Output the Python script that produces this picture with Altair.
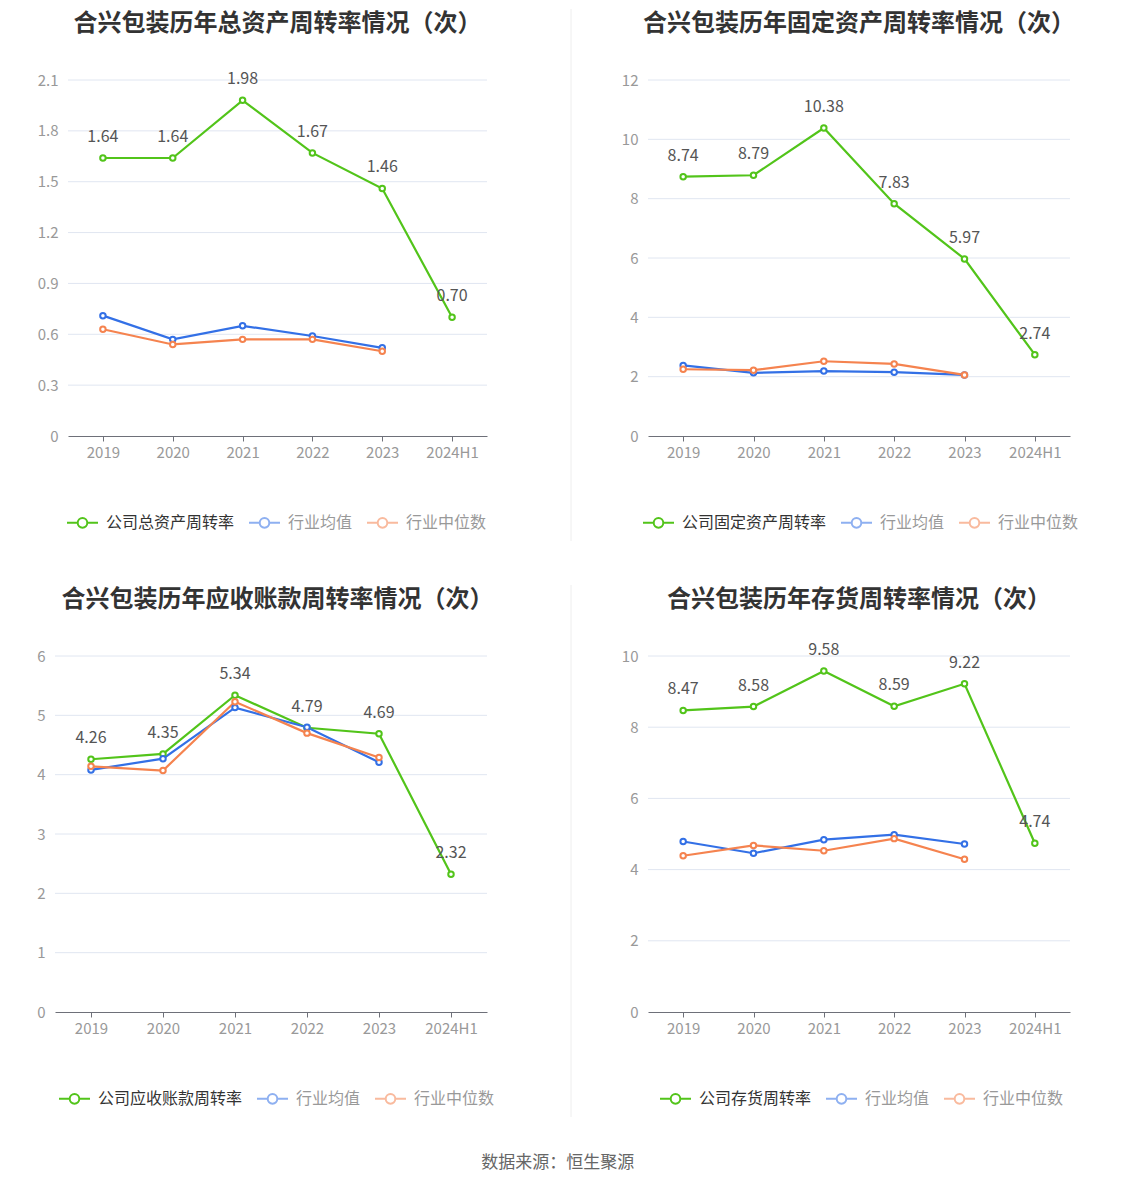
import altair as alt
import pandas as pd

years = ["2019", "2020", "2021", "2022", "2023", "2024H1"]
avg_name = "行业均值"
med_name = "行业中位数"

titles = [
    "合兴包装历年总资产周转率情况（次）",
    "合兴包装历年固定资产周转率情况（次）",
    "合兴包装历年应收账款周转率情况（次）",
    "合兴包装历年存货周转率情况（次）",
]
company_names = ["公司总资产周转率", "公司固定资产周转率", "公司应收账款周转率", "公司存货周转率"]

company_vals = [
    [1.64, 1.64, 1.98, 1.67, 1.46, 0.70],
    [8.74, 8.79, 10.38, 7.83, 5.97, 2.74],
    [4.26, 4.35, 5.34, 4.79, 4.69, 2.32],
    [8.47, 8.58, 9.58, 8.59, 9.22, 4.74],
]
avg_vals = [
    [0.71, 0.57, 0.65, 0.59, 0.52],
    [2.38, 2.13, 2.19, 2.15, 2.06],
    [4.08, 4.27, 5.13, 4.80, 4.21],
    [4.79, 4.46, 4.84, 4.98, 4.72],
]
med_vals = [
    [0.63, 0.54, 0.57, 0.57, 0.50],
    [2.25, 2.22, 2.52, 2.43, 2.06],
    [4.14, 4.07, 5.23, 4.70, 4.29],
    [4.39, 4.68, 4.53, 4.87, 4.29],
]
y_max = [2.1, 12, 6, 10]
y_step = [0.3, 2, 1, 2]
widths = [419, 422, 419, 422]
# left extension of the plotting range (panel 3 plot starts further left)
x_start = [0, 0, -13, 0]
label_pad = [10, 10, 23, 10]
# legend placement (centred under each plot)
legend_x = [-2, -6, -10, 11]

GREEN = "#52C41A"
BLUE = "#3370E6"
ORANGE = "#F5834F"
FONT = "Noto Sans CJK SC"

SYMBOL = ("M-1,0L-0.31,0M0.31,0L1,0"
          "M0.31,0A0.31,0.31,0,1,1,-0.31,0A0.31,0.31,0,1,1,0.31,0Z")


def panel(i):
    rows = []
    for y, v in zip(years, company_vals[i]):
        rows.append({"year": y, "series": company_names[i], "value": v})
    for y, v in zip(years, avg_vals[i]):
        rows.append({"year": y, "series": avg_name, "value": v})
    for y, v in zip(years, med_vals[i]):
        rows.append({"year": y, "series": med_name, "value": v})
    df = pd.DataFrame(rows)
    domain = [company_names[i], avg_name, med_name]
    n = int(round(y_max[i] / y_step[i]))
    ticks = [round(k * y_step[i], 4) for k in range(n + 1)]

    x = alt.X("year:N", sort=years, title=None,
              scale=alt.Scale(type="point", padding=0.5,
                              range=[x_start[i], widths[i]]),
              axis=alt.Axis(labelAngle=0, labelColor="#999999", labelFontSize=15,
                            labelFont=FONT, domainColor="#6E7079", tickColor="#6E7079",
                            tickSize=5, labelPadding=4, grid=False))
    y = alt.Y("value:Q", title=None,
              scale=alt.Scale(domain=[0, y_max[i]], nice=False),
              axis=alt.Axis(values=ticks, format=".1~f", labelColor="#999999",
                            labelFontSize=15, labelFont=FONT, domain=False, ticks=False,
                            labelPadding=label_pad[i], grid=False))
    color = alt.Color(
        "series:N",
        scale=alt.Scale(domain=domain, range=[GREEN, BLUE, ORANGE]),
        legend=alt.Legend(
            title=None, orient="none", direction="horizontal",
            legendX=legend_x[i], legendY=426,
            symbolType=SYMBOL, symbolSize=961, symbolStrokeWidth=2,
            symbolFillColor="white",
            symbolOpacity={"expr": f"datum.value == '{company_names[i]}' ? 1 : 0.55"},
            labelColor={"expr": f"datum.value == '{company_names[i]}' ? '#333333' : '#999999'"},
            labelFontSize=16, labelFont=FONT, labelOffset=7, columnPadding=10,
        ),
    )
    grid = alt.Chart(pd.DataFrame({"value": ticks[1:]})).mark_rule(
        color="#E0E6F1", strokeWidth=1).encode(
        y=y, x=alt.value(x_start[i]), x2=alt.value(widths[i]))
    base = alt.Chart(df)
    lines = base.mark_line(strokeWidth=2.2).encode(x=x, y=y, color=color)
    points = base.mark_point(filled=True, fill="white", size=30, strokeWidth=2,
                             opacity=1).encode(x=x, y=y, stroke=alt.Stroke(
                                 "series:N", scale=alt.Scale(domain=domain,
                                                             range=[GREEN, BLUE, ORANGE]),
                                 legend=None))
    labels = base.transform_filter(
        alt.datum.series == company_names[i]
    ).mark_text(dy=-21, fontSize=16, font=FONT, color="#555555").encode(
        x=x, y=y, text=alt.Text("value:Q", format=".2f"))
    sep_df = pd.DataFrame({"k": [0]})
    if i in (1, 3):
        sep = alt.Chart(sep_df).mark_rule(color="#EEEEEE", strokeWidth=1).encode(
            x=alt.value(-77), y=alt.value(-71), y2=alt.value(461))
    else:
        sep = alt.Chart(sep_df).mark_rule(color="#FFFFFF", opacity=0, strokeWidth=1).encode(
            x=alt.value(x_start[i]), y=alt.value(-71), y2=alt.value(461))
    layers = [sep, grid, lines, points, labels]
    return alt.layer(*layers).properties(
        width=widths[i], height=356,
        title=alt.TitleParams(titles[i], fontSize=24, fontWeight="bold",
                              color="#333333", font=FONT, anchor="middle", offset=-27),
    ).resolve_scale(color="independent", stroke="independent")


chart = alt.concat(
    panel(0), panel(1), panel(2), panel(3),
    columns=2, spacing={"row": 42, "column": 70},
).resolve_scale(color="independent", stroke="independent").properties(
    title=alt.TitleParams("数据来源：恒生聚源", orient="bottom", fontSize=17,
                          fontWeight="normal", color="#666666", font=FONT,
                          anchor="middle", offset=37),
    padding={"left": 28, "top": 0, "right": 5, "bottom": 5},
).configure_view(stroke=None)

chart.save("out.html", embed_options={"renderer": "svg", "actions": False})
